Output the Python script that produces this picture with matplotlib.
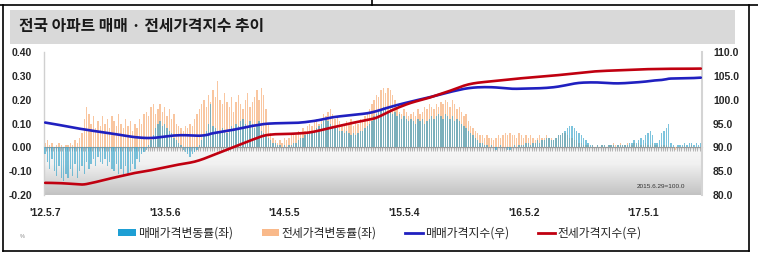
import numpy as np
import matplotlib
matplotlib.use('Agg')
import matplotlib.pyplot as plt
from matplotlib.patches import Rectangle, Patch
from matplotlib.lines import Line2D
from matplotlib.colors import LinearSegmentedColormap
from matplotlib.ticker import FormatStrFormatter

plt.rcParams['font.family'] = ['Liberation Sans', 'Noto Sans CJK KR', 'DejaVu Sans']
KR = ['Noto Sans CJK KR', 'DejaVu Sans']

title = "전국 아파트 매매 · 전세가격지수 추이"
week_labels = ["'12.5.7", "'13.5.6", "'14.5.5", "'15.5.4", "'16.5.2", "'17.5.1"]
label_weeks = [0, 52, 104, 156, 208, 260]
series_names = ["매매가격변동률(좌)", "전세가격변동률(좌)", "매매가격지수(우)", "전세가격지수(우)"]
base_note = "2015.6.29=100.0"

# weekly change of sale price (%), left axis
sale_chg = [
    -0.03, -0.06, -0.09, -0.05, -0.10, -0.12, -0.08, -0.13, -0.14, -0.11,
    -0.13, -0.09, -0.12, -0.07, -0.13, -0.10, -0.08, -0.11, -0.06, -0.09,
    -0.07, -0.05, -0.08, -0.04, -0.06, -0.07, -0.05, -0.08, -0.06, -0.09,
    -0.10, -0.07, -0.11, -0.09, -0.12, -0.08, -0.11, -0.10, -0.07, -0.09,
    -0.05, -0.06, -0.03, -0.02, -0.01, 0.01, 0.03, 0.05, 0.08, 0.10,
    0.11, 0.09, 0.10, 0.08, 0.07, 0.06, 0.04, 0.03, 0.02, 0.01,
    -0.01, -0.02, -0.03, -0.04, -0.03, -0.02, -0.01, 0.01, 0.03, 0.05,
    0.07, 0.10, 0.18, 0.09, 0.08, 0.07, 0.06, 0.08, 0.07, 0.06,
    0.07, 0.09, 0.08, 0.10, 0.09, 0.11, 0.12, 0.10, 0.09, 0.11,
    0.10, 0.08, 0.09, 0.11, 0.07, 0.06, 0.05, 0.04, 0.03, 0.02,
    0.02, 0.01, 0.01, 0.00, 0.01, 0.00, 0.01, 0.01, 0.02, 0.02,
    0.03, 0.04, 0.04, 0.05, 0.06, 0.06, 0.07, 0.07, 0.08, 0.09,
    0.10, 0.11, 0.12, 0.11, 0.10, 0.09, 0.09, 0.08, 0.07, 0.07,
    0.06, 0.07, 0.06, 0.05, 0.06, 0.05, 0.06, 0.07, 0.07, 0.08,
    0.09, 0.10, 0.11, 0.13, 0.14, 0.15, 0.16, 0.17, 0.16, 0.15,
    0.16, 0.14, 0.15, 0.13, 0.14, 0.12, 0.13, 0.12, 0.11, 0.12,
    0.11, 0.10, 0.12, 0.11, 0.12, 0.10, 0.11, 0.12, 0.13, 0.12,
    0.13, 0.14, 0.13, 0.12, 0.14, 0.13, 0.12, 0.13, 0.11, 0.12,
    0.11, 0.10, 0.09, 0.08, 0.07, 0.06, 0.05, 0.04, 0.03, 0.02,
    0.02, 0.01, 0.01, 0.00, 0.01, 0.00, -0.01, 0.00, 0.01, 0.00,
    0.00, -0.01, -0.01, 0.00, 0.01, 0.00, 0.01, 0.01, 0.01, 0.02,
    0.02, 0.01, 0.02, 0.02, 0.03, 0.02, 0.03, 0.03, 0.04, 0.04,
    0.03, 0.03, 0.04, 0.05, 0.05, 0.06, 0.07, 0.08, 0.09, 0.09,
    0.08, 0.07, 0.06, 0.05, 0.04, 0.03, 0.02, 0.01, 0.01, 0.00,
    0.01, 0.00, 0.01, 0.01, 0.00, 0.01, 0.01, 0.01, 0.00, 0.01,
    0.01, 0.01, 0.01, 0.01, 0.02, 0.02, 0.03, 0.02, 0.03, 0.04,
    0.03, 0.05, 0.06, 0.07, 0.05, 0.02, 0.02, 0.03, 0.06, 0.07,
    0.08, 0.10, 0.02, 0.01, 0.00, 0.01, 0.01, 0.01, 0.02, 0.01,
    0.02, 0.02, 0.01, 0.02, 0.01, 0.02,
]

# weekly change of jeonse price (%), left axis
jeonse_chg = [
    0.02, 0.03, 0.01, 0.02, 0.00, 0.01, 0.02, 0.01, 0.00, 0.01,
    0.01, 0.02, 0.01, 0.03, 0.02, 0.04, 0.06, 0.12, 0.17, 0.14,
    0.10, 0.13, 0.08, 0.11, 0.09, 0.13, 0.10, 0.12, 0.08, 0.13,
    0.11, 0.09, 0.14, 0.10, 0.08, 0.12, 0.09, 0.11, 0.07, 0.10,
    0.08, 0.12, 0.10, 0.14, 0.15, 0.13, 0.17, 0.18, 0.14, 0.16,
    0.18, 0.15, 0.17, 0.13, 0.16, 0.12, 0.14, 0.10, 0.09, 0.08,
    0.07, 0.09, 0.08, 0.10, 0.09, 0.12, 0.14, 0.16, 0.18, 0.20,
    0.17, 0.22, 0.19, 0.24, 0.21, 0.28, 0.20, 0.18, 0.23, 0.19,
    0.17, 0.21, 0.15, 0.19, 0.22, 0.18, 0.16, 0.20, 0.23, 0.17,
    0.19, 0.21, 0.24, 0.20, 0.25, 0.22, 0.16, 0.10, 0.06, 0.04,
    0.03, 0.02, 0.03, 0.02, 0.04, 0.03, 0.04, 0.05, 0.06, 0.05,
    0.07, 0.06, 0.08, 0.07, 0.09, 0.10, 0.09, 0.11, 0.12, 0.10,
    0.12, 0.14, 0.13, 0.15, 0.16, 0.14, 0.12, 0.13, 0.11, 0.10,
    0.09, 0.11, 0.10, 0.12, 0.09, 0.11, 0.10, 0.12, 0.11, 0.13,
    0.14, 0.16, 0.18, 0.20, 0.22, 0.21, 0.24, 0.25, 0.23, 0.25,
    0.24, 0.22, 0.20, 0.17, 0.15, 0.14, 0.16, 0.15, 0.13, 0.14,
    0.15, 0.13, 0.16, 0.14, 0.15, 0.17, 0.16, 0.18, 0.17, 0.16,
    0.18, 0.17, 0.19, 0.18, 0.20, 0.19, 0.17, 0.20, 0.18, 0.16,
    0.17, 0.15, 0.13, 0.14, 0.11, 0.09, 0.08, 0.07, 0.06, 0.05,
    0.05, 0.04, 0.05, 0.04, 0.04, 0.03, 0.04, 0.05, 0.04, 0.05,
    0.06, 0.05, 0.06, 0.05, 0.05, 0.04, 0.06, 0.05, 0.04, 0.05,
    0.04, 0.05, 0.04, 0.03, 0.04, 0.05, 0.04, 0.04, 0.05, 0.04,
    0.04, 0.03, 0.04, 0.05, 0.05, 0.06, 0.06, 0.05, 0.04, 0.04,
    0.03, 0.03, 0.02, 0.02, 0.01, 0.01, 0.01, 0.00, 0.01, 0.00,
    0.01, 0.00, 0.01, 0.01, 0.00, 0.01, 0.01, 0.02, 0.01, 0.01,
    0.02, 0.01, 0.01, 0.02, 0.01, 0.01, 0.02, 0.01, 0.02, 0.01,
    0.01, 0.02, 0.01, 0.01, 0.02, 0.01, 0.01, 0.00, 0.01, 0.01,
    0.01, 0.00, 0.00, 0.00, -0.01, 0.00, 0.00, 0.00, 0.01, 0.00,
    0.00, 0.01, 0.00, 0.00, 0.00, 0.00,
]

# sale price index (2015.6.29=100), right axis
sale_idx = [
    95.20, 95.12, 95.03, 94.95, 94.87, 94.78, 94.70, 94.61, 94.52, 94.43,
    94.34, 94.26, 94.17, 94.08, 94.00, 93.91, 93.83, 93.75, 93.67, 93.59,
    93.52, 93.45, 93.38, 93.31, 93.24, 93.17, 93.10, 93.03, 92.96, 92.89,
    92.81, 92.73, 92.65, 92.57, 92.49, 92.41, 92.34, 92.27, 92.20, 92.14,
    92.09, 92.05, 92.01, 91.98, 91.96, 91.95, 91.96, 91.98, 92.02, 92.07,
    92.14, 92.20, 92.27, 92.33, 92.39, 92.44, 92.48, 92.51, 92.53, 92.55,
    92.55, 92.54, 92.52, 92.49, 92.46, 92.44, 92.43, 92.43, 92.46, 92.51,
    92.58, 92.68, 92.86, 92.96, 93.05, 93.13, 93.20, 93.28, 93.36, 93.44,
    93.52, 93.61, 93.70, 93.80, 93.90, 94.00, 94.11, 94.21, 94.30, 94.40,
    94.49, 94.57, 94.65, 94.75, 94.82, 94.88, 94.93, 94.97, 95.00, 95.02,
    95.04, 95.05, 95.06, 95.06, 95.07, 95.07, 95.08, 95.09, 95.11, 95.13,
    95.16, 95.20, 95.24, 95.29, 95.35, 95.41, 95.48, 95.55, 95.63, 95.72,
    95.82, 95.93, 96.04, 96.14, 96.23, 96.31, 96.38, 96.44, 96.50, 96.55,
    96.60, 96.65, 96.70, 96.75, 96.80, 96.85, 96.90, 96.96, 97.02, 97.08,
    97.15, 97.24, 97.34, 97.46, 97.59, 97.73, 97.88, 98.04, 98.19, 98.33,
    98.47, 98.61, 98.74, 98.87, 99.00, 99.12, 99.24, 99.36, 99.48, 99.60,
    99.71, 99.82, 99.94, 100.05, 100.17, 100.28, 100.39, 100.50, 100.62, 100.74,
    100.86, 100.99, 101.11, 101.23, 101.36, 101.49, 101.61, 101.73, 101.84, 101.96,
    102.07, 102.17, 102.26, 102.34, 102.41, 102.47, 102.52, 102.56, 102.59, 102.61,
    102.62, 102.63, 102.63, 102.62, 102.61, 102.59, 102.56, 102.52, 102.48, 102.44,
    102.40, 102.36, 102.32, 102.29, 102.28, 102.28, 102.29, 102.30, 102.31, 102.32,
    102.33, 102.34, 102.35, 102.36, 102.38, 102.40, 102.42, 102.45, 102.48, 102.52,
    102.56, 102.61, 102.67, 102.74, 102.82, 102.91, 103.00, 103.10, 103.20, 103.30,
    103.38, 103.45, 103.51, 103.55, 103.58, 103.60, 103.61, 103.62, 103.62, 103.62,
    103.61, 103.59, 103.57, 103.54, 103.51, 103.48, 103.45, 103.43, 103.42, 103.42,
    103.43, 103.45, 103.47, 103.50, 103.53, 103.56, 103.60, 103.63, 103.67, 103.71,
    103.75, 103.80, 103.86, 103.93, 103.99, 104.03, 104.06, 104.09, 104.14, 104.21,
    104.29, 104.39, 104.43, 104.44, 104.45, 104.45, 104.46, 104.46, 104.47, 104.48,
    104.50, 104.52, 104.54, 104.57, 104.60, 104.62,
]

# jeonse price index (2015.6.29=100), right axis
jeonse_idx = [
    82.55, 82.55, 82.54, 82.53, 82.52, 82.50, 82.49, 82.47, 82.45, 82.42,
    82.39, 82.36, 82.33, 82.29, 82.25, 82.22, 82.20, 82.23, 82.30, 82.40,
    82.50, 82.61, 82.72, 82.84, 82.96, 83.08, 83.20, 83.32, 83.43, 83.54,
    83.65, 83.76, 83.88, 83.99, 84.11, 84.22, 84.33, 84.43, 84.53, 84.62,
    84.70, 84.78, 84.86, 84.94, 85.02, 85.10, 85.20, 85.30, 85.40, 85.50,
    85.60, 85.70, 85.80, 85.90, 86.00, 86.10, 86.20, 86.30, 86.38, 86.46,
    86.54, 86.62, 86.70, 86.79, 86.89, 87.00, 87.13, 87.28, 87.44, 87.61,
    87.80, 87.99, 88.18, 88.37, 88.57, 88.77, 88.96, 89.15, 89.34, 89.52,
    89.70, 89.90, 90.08, 90.27, 90.48, 90.66, 90.84, 91.03, 91.23, 91.40,
    91.58, 91.76, 91.95, 92.12, 92.29, 92.43, 92.54, 92.62, 92.67, 92.71,
    92.75, 92.76, 92.77, 92.78, 92.79, 92.80, 92.82, 92.84, 92.86, 92.89,
    92.92, 92.95, 92.98, 93.02, 93.07, 93.13, 93.21, 93.30, 93.40, 93.51,
    93.62, 93.74, 93.86, 93.97, 94.08, 94.19, 94.29, 94.39, 94.50, 94.61,
    94.72, 94.83, 94.94, 95.05, 95.16, 95.26, 95.36, 95.46, 95.56, 95.66,
    95.76, 95.86, 95.96, 96.05, 96.22, 96.43, 96.65, 96.88, 97.12, 97.36,
    97.60, 97.82, 98.03, 98.24, 98.44, 98.63, 98.82, 99.00, 99.17, 99.33,
    99.48, 99.62, 99.75, 99.88, 100.00, 100.13, 100.27, 100.42, 100.58, 100.74,
    100.90, 101.06, 101.22, 101.38, 101.54, 101.70, 101.87, 102.05, 102.23, 102.42,
    102.60, 102.77, 102.93, 103.07, 103.20, 103.31, 103.40, 103.48, 103.55, 103.61,
    103.66, 103.71, 103.76, 103.81, 103.86, 103.91, 103.96, 104.01, 104.06, 104.11,
    104.16, 104.21, 104.26, 104.31, 104.36, 104.41, 104.45, 104.49, 104.53, 104.57,
    104.61, 104.65, 104.69, 104.73, 104.77, 104.81, 104.85, 104.89, 104.93, 104.97,
    105.01, 105.05, 105.10, 105.15, 105.20, 105.25, 105.30, 105.35, 105.40, 105.45,
    105.50, 105.55, 105.60, 105.65, 105.70, 105.75, 105.80, 105.85, 105.89, 105.93,
    105.96, 105.99, 106.02, 106.04, 106.06, 106.08, 106.10, 106.12, 106.14, 106.16,
    106.18, 106.20, 106.22, 106.24, 106.26, 106.28, 106.30, 106.32, 106.34, 106.36,
    106.38, 106.39, 106.40, 106.41, 106.42, 106.43, 106.44, 106.45, 106.46, 106.46,
    106.47, 106.47, 106.48, 106.48, 106.48, 106.49, 106.49, 106.49, 106.50, 106.50,
    106.50, 106.50, 106.51, 106.51, 106.51, 106.52,
]

N = len(sale_chg)
assert len(jeonse_chg) == N and len(sale_idx) == N and len(jeonse_idx) == N, (
    len(sale_chg), len(jeonse_chg), len(sale_idx), len(jeonse_idx))
x = np.arange(N)

W, H = 758, 257
fig = plt.figure(figsize=(W / 100, H / 100), dpi=100)
fig.patch.set_facecolor('white')


def fx(px):
    return px / W


def fy(py):
    return 1 - py / H


# outer frame
for (x0, y0, x1, y1) in [(0, 4.5, 758, 4.5), (3, 4.5, 3, 251), (3, 251, 749, 251),
                         (749, 4.5, 749, 251), (372, 0, 372, 4.5)]:
    fig.add_artist(Line2D([fx(x0), fx(x1)], [fy(y0), fy(y1)], transform=fig.transFigure,
                          color='black', lw=1.2))

# title bar
fig.add_artist(Rectangle((fx(10), fy(44)), fx(735) - fx(10), fy(10) - fy(44),
                         transform=fig.transFigure, facecolor='#D9D9D9', edgecolor='none'))
fig.text(fx(19), fy(26.5), title, family=KR, fontsize=11.4, fontweight='bold',
         color='#1a1a1a', va='center', ha='left')

# axes
ax = fig.add_axes([fx(44), 62 / H, 658 / W, 143 / H])
ax.set_xlim(-0.5, N - 0.5)
ax.set_ylim(-0.2, 0.4)

# gradient floor below zero
cmap = LinearSegmentedColormap.from_list(
    'floor', [(0.0, '#D6D6D6'), (0.07, '#F6F6F6'), (0.35, '#F1F1F1'), (1.0, '#C2C2C2')])
grad = np.linspace(0, 1, 200).reshape(-1, 1)
ax.imshow(grad, extent=[-0.5, N - 0.5, -0.2, 0.0], aspect='auto', cmap=cmap,
          origin='upper', zorder=0, interpolation='bilinear')
ax.set_xlim(-0.5, N - 0.5)
ax.set_ylim(-0.2, 0.4)

ax.bar(x, jeonse_chg, width=0.6, color='#F9C6A0', linewidth=0, zorder=2)
ax.bar(x, sale_chg, width=0.6, color='#3AA6CC', alpha=0.66, linewidth=0, zorder=3)

for s in ['top', 'right', 'bottom']:
    ax.spines[s].set_visible(False)
ax.spines['left'].set_color('#D0D0D0')
ax.spines['left'].set_linewidth(1.0)

ax.set_xticks(label_weeks)
ax.set_xticklabels(week_labels)
ax.tick_params(axis='x', length=0, pad=9, labelsize=7.5, labelcolor='#262626')
ax.set_yticks(np.round(np.arange(-0.2, 0.41, 0.1), 2))
ax.yaxis.set_major_formatter(FormatStrFormatter('%.2f'))
ax.tick_params(axis='y', length=0, pad=8.5, labelsize=7.5, labelcolor='#262626')
for lab in ax.get_xticklabels() + ax.get_yticklabels():
    lab.set_fontweight('bold')

# zero line with weekly tick marks
sec = ax.secondary_xaxis(1 / 3)
sec.set_xticks(np.arange(N + 1) - 0.5)
sec.tick_params(axis='x', length=3, width=0.5, color='#9A9A9A', direction='out',
                labelbottom=False, labeltop=False)
for s in sec.spines.values():
    s.set_color('#9A9A9A')
    s.set_linewidth(0.8)

ax.text(0.974, 0.056, base_note, transform=ax.transAxes, ha='right', va='center',
        fontsize=4.6, color='#333333')

# right axis lines
ax2 = ax.twinx()
ax2.set_xlim(-0.5, N - 0.5)
ax2.set_ylim(80, 110)
ax2.plot(x, sale_idx, color='#2020C0', lw=1.9, zorder=4, solid_capstyle='round')
ax2.plot(x, jeonse_idx, color='#C00010', lw=1.9, zorder=5, solid_capstyle='round')
ax2.set_yticks(np.arange(80, 111, 5))
ax2.yaxis.set_major_formatter(FormatStrFormatter('%.1f'))
ax2.tick_params(axis='y', length=0, pad=8, labelsize=7.5, labelcolor='#262626')
for lab in ax2.get_yticklabels():
    lab.set_fontweight('bold')
for s in ['top', 'left', 'bottom']:
    ax2.spines[s].set_visible(False)
ax2.spines['right'].set_color('#D4D4D4')
ax2.spines['right'].set_linewidth(1.5)

# legend
handles = [Patch(facecolor='#1E9FD4', edgecolor='none'),
           Patch(facecolor='#F9B98A', edgecolor='none'),
           Line2D([], [], color='#2020C0', lw=2),
           Line2D([], [], color='#C00010', lw=2)]
fig.legend(handles, series_names, loc='center', bbox_to_anchor=(fx(380), fy(233)),
           ncol=4, frameon=False, prop={'family': KR, 'size': 8.5},
           handlelength=1.5, handleheight=0.6, handletextpad=0.2, columnspacing=2.4,
           labelcolor='#222222')

fig.text(fx(22), fy(237), '%', fontsize=4, color='#8a8a8a', ha='center', va='center')

fig.savefig('out.png', dpi=100, facecolor='white')
